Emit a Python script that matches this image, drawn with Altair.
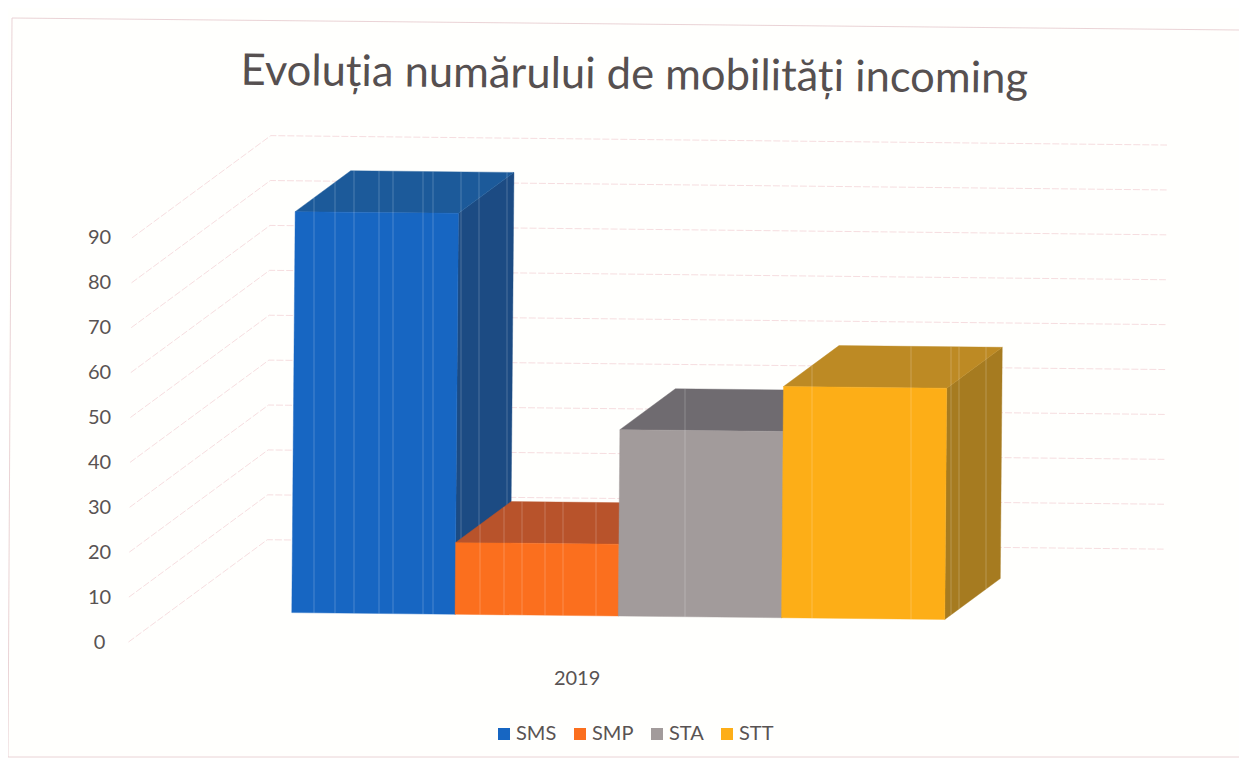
import altair as alt
import numpy as np
import pandas as pd

series = ["SMS", "SMP", "STA", "STT"]
values = [89.3, 16, 41.5, 51.5]
front_colors = ["#1766c2", "#fb6f1e", "#a29b9b", "#fdae17"]
top_colors = ["#1c5a9a", "#b8532b", "#6f6b70", "#bd8a24"]
side_colors = ["#1c4b83", "#a8482a", "#66636a", "#a67b20"]
ticks = list(range(0, 100, 10))
year = "2019"
title_text = "Evoluția numărului de mobilități incoming"
stripes = [
    [314, 335, 354, 379, 393, 423, 433, 461, 479, 507],
    [480, 504, 522, 545, 563, 596],
    [685],
    [812, 911, 951, 959, 986],
]

# projection of the oblique 3-D view, in pixels of the page
X0, Y0, UX, UY, DX, DY = 128.5, 642.0, 163.25, 4.49, 0.845, 23.1
FLOOR_W, MARGIN, D_FRONT, D_BACK = 5.49, 0.745, 0.3, 0.7
TILT_Y, TILT_X = 0.0105, 0.0085
PLOT_L, PLOT_R, PLOT_T, PLOT_B = 114, 1239, 118, 660


def project(u, d, v):
    xr = X0 + UX * (u + DX * d)
    yr = Y0 - UY * (v + DY * d)
    return xr + TILT_X * (Y0 - yr), yr + TILT_Y * (xr - X0)


def to_data(px, py):
    return (px - X0) / UX, (Y0 - py) / UY


def polygon(points):
    rows = []
    for i, (px, py) in enumerate(points + points[:1]):
        a, b = to_data(px, py)
        rows.append({"a": a, "b": b, "i": i})
    return pd.DataFrame(rows)


x_scale = alt.Scale(domain=list(to_data(PLOT_L, 0)[:1]) + list(to_data(PLOT_R, 0)[:1]), nice=False, zero=False)
y_scale = alt.Scale(domain=[to_data(0, PLOT_B)[1], to_data(0, PLOT_T)[1]], nice=False, zero=False)
X = alt.X("a:Q", scale=x_scale, axis=alt.Axis(
    values=[FLOOR_W / 2], labelExpr=f"'{year}'", title=None, grid=False, domain=False, ticks=False,
    labelFontSize=20, labelFont="Lato", labelColor="#595353", labelPadding=8))
Y = alt.Y("b:Q", scale=y_scale, axis=alt.Axis(
    values=ticks, title=None, grid=False, domain=False, ticks=False, labelAlign="center",
    labelFontSize=20, labelFont="Lato", labelColor="#595353", labelPadding=15))


def poly_layer(points, color):
    return alt.Chart(polygon(points)).mark_line(fill=color, stroke=color, strokeWidth=0.4).encode(
        x=alt.X("a:Q"), y=alt.Y("b:Q"), order="i:Q")


def line_layer(points, color, dash=None, width=1.0, opacity=1.0):
    kw = {"strokeDash": dash} if dash else {}
    return alt.Chart(polygon(points).iloc[:-1]).mark_line(
        color=color, strokeWidth=width, opacity=opacity, **kw
    ).encode(x=alt.X("a:Q"), y=alt.Y("b:Q"), order="i:Q")


layers = []

# faint printed frame of the scan
layers.append(line_layer([(1239, 30), (12, 18), (8, 757), (1239, 757)], "#e3c4c8", width=1.0, opacity=0.75))

# wall and floor gridlines
for t in ticks:
    pts = [project(0, 0, t), project(0, 1, t), project(FLOOR_W, 1, t)]
    layers.append(line_layer(pts, "#f4d5d8", dash=[7, 2], width=1.0, opacity=0.8))

# legend-bearing marks, hidden under the faces drawn later
legend_df = pd.DataFrame({
    "series": series,
    "a": [to_data(*project(i + MARGIN + 0.5, D_FRONT, 5))[0] for i in range(4)],
    "b": [to_data(*project(i + MARGIN + 0.5, D_FRONT, 5))[1] for i in range(4)],
})
layers.append(alt.Chart(legend_df).mark_square(size=4).encode(
    x=X, y=Y,
    color=alt.Color("series:N", sort=series, scale=alt.Scale(domain=series, range=front_colors),
                    legend=alt.Legend(orient="none", legendX=380, legendY=606, direction="horizontal",
                                      title=None, symbolType="square", symbolSize=144, symbolOpacity=1,
                                      labelFont="Lato", labelFontSize=20, labelColor="#595353",
                                      columnPadding=13, labelOffset=2)),
))

stripe_rows = []
for i, v in enumerate(values):
    u0, u1 = i + MARGIN, i + MARGIN + 1
    A = project(u0, D_FRONT, 0)
    B = project(u0, D_FRONT, v)
    C = project(u0, D_BACK, v)
    D = project(u1, D_BACK, v)
    E = project(u1, D_BACK, 0)
    F = project(u1, D_FRONT, 0)
    G = project(u1, D_FRONT, v)
    layers.append(poly_layer([F, G, D, E], side_colors[i]))
    layers.append(poly_layer([B, C, D, G], top_colors[i]))
    layers.append(poly_layer([A, B, G, F], front_colors[i]))
    for s in stripes[i]:
        top = np.interp(s, [B[0], C[0], D[0]], [B[1], C[1], D[1]])
        bot = np.interp(s, [A[0], F[0], E[0]], [A[1], F[1], E[1]])
        a, b = to_data(s, top)
        _, b2 = to_data(s, bot)
        stripe_rows.append({"a": a, "b": b, "b2": b2, "layer": i})
    sr = pd.DataFrame([r for r in stripe_rows if r["layer"] == i])
    layers.append(alt.Chart(sr).mark_rule(color="#ffffff", opacity=0.22, strokeWidth=1).encode(
        x=alt.X("a:Q"), y=alt.Y("b:Q"), y2="b2:Q"))

chart = alt.layer(*layers).properties(
    width=PLOT_R - PLOT_L,
    height=PLOT_B - PLOT_T,
    padding={"left": PLOT_L - 8, "top": PLOT_T - 8, "right": 0, "bottom": 758 - PLOT_B},
    autosize=alt.AutoSizeParams(type="none"),
    background="#fffffd",
    title=alt.TitleParams(title_text, font="Lato", fontSize=43.5, fontWeight="normal", color="#565050",
                          angle=0.6, anchor="middle", dx=-41, dy=91, offset=0, frame="group"),
).configure_view(stroke=None)

chart.save("out.html", embed_options={"renderer": "svg", "actions": False})
